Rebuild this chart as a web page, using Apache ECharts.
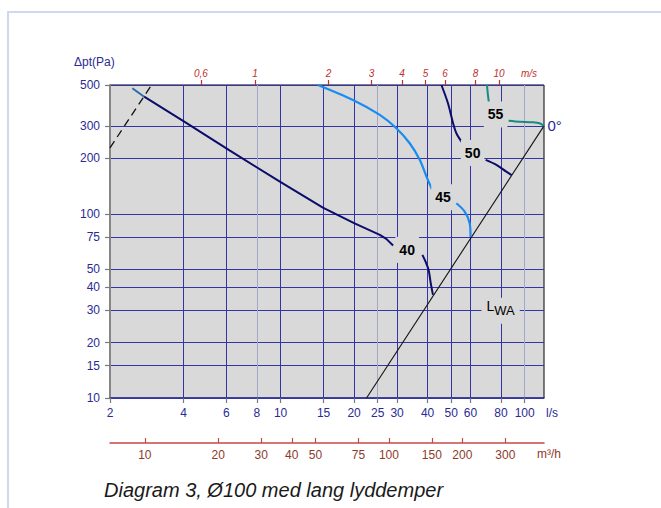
<!DOCTYPE html>
<html>
<head>
<meta charset="utf-8">
<script src="https://cdn.jsdelivr.net/npm/echarts@6/dist/echarts.min.js"></script>
<style>
html,body{margin:0;padding:0;background:#fff;}
#frame{position:absolute;left:7px;top:11px;width:720px;height:600px;border-left:2px solid #d0d7ef;border-top:2px solid #d0d7ef;box-sizing:border-box;}
#chart{position:absolute;left:0;top:0;width:661px;height:508px;}
</style>
</head>
<body>
<div id="frame"></div>
<div id="chart"></div>
<script>
// ---- tick values ----
const lpsTicks = [2, 4, 6, 8, 10, 15, 20, 25, 30, 40, 50, 60, 80, 100];
const lpsGridDark = [4, 6, 10, 15, 20, 30, 40, 50, 60, 80];
const lpsGridLight = [8, 25, 100];
const paTicks = [10, 15, 20, 30, 40, 50, 75, 100, 200, 300, 500];
const msTicks = [0.6, 1, 2, 3, 4, 5, 6, 8, 10];
const m3hTicks = [10, 20, 30, 40, 50, 75, 100, 150, 200, 300];

// ---- curves: [l/s, Pa] ----
const curve40start = [[2.47, 480], [2.76, 432]];
const curve40 = [[2.76, 432], [4.0, 318], [6.2, 220], [9.93, 149.5], [14.9, 108], [20, 88.9], [25.5, 76.8], [27.1, 73.1], [28.9, 67.2]];
const curve40b = [[38.1, 59.8], [39.3, 54.8], [40.4, 49.6], [41.2, 42.2], [42.1, 36.3]];
const curve45 = [[14.2, 500], [19.8, 414.6], [25.5, 343.9], [29.8, 291.2], [33.8, 241.4], [37.2, 196], [39.6, 159], [41.7, 135.9]];
const curve45b = [[52.5, 114.1], [56.8, 102.8], [59.5, 88.9], [60, 75]];
const curve50 = [[45.6, 500], [48.5, 398], [50.9, 310], [52.5, 273.6], [55.9, 239.3]];
const curve50b = [[69.2, 196], [76.6, 184.2], [84.1, 169.3], [88.4, 162]];
const curve55 = [[70.1, 500], [70.7, 441.5], [71.4, 398]];
const curve55b = [[85.9, 320], [95.4, 316], [108.1, 313.8], [115.1, 310], [120, 300]];
const lwaLine = [[22.5, 10], [120, 300]];
const dashedLine = [[2, 228], [2.96, 500]];

// ---- annotations: [l/s, Pa, text] ----
const curveLabels = [[33.0, 63.7, '40'], [46.3, 122.9, '45'], [61.2, 213.9, '50'], [76.0, 346, '55']];
const lwaLabel = [[79.7, 29.75]];
const angleLabel = [[120, 300, '0°']];

// ---- axis ranges / conversions ----
const QMIN = 2, QMAX = 120, PMIN = 10, PMAX = 500;
const msPerLps = 1 / (Math.PI * 0.05 * 0.05 * 1000); // Ø100 duct
const m3hPerLps = 3.6;

const FONT = 'Liberation Sans, Arial, sans-serif';
const NAVY = '#2a2a96';
const GRIDNAVY = '#3434a6';
const GRIDLIGHT = '#a0a6cc';
const RED = '#c0302c';
const BROWN = '#8e3a2a';
const CURVE_NAVY = '#0c0c6a';
const CURVE_BLUE = '#1a8cf0';
const CURVE_TEAL = '#168a84';
const CLEAR = 'rgba(0,0,0,0)';

const chart = echarts.init(document.getElementById('chart'), null, {renderer: 'svg'});

function hiddenGridAxis(values, color) {
  return {
    type: 'log', position: 'bottom', min: QMIN, max: QMAX,
    axisLine: {show: false}, axisLabel: {show: false},
    axisTick: {show: false, customValues: values},
    splitLine: {show: true, lineStyle: {color: color, width: 1}}
  };
}

function lineSeries(data, color, width, extra) {
  return Object.assign({
    type: 'line', xAxisIndex: 0, yAxisIndex: 0, data: data, symbol: 'none',
    lineStyle: {color: color, width: width}, silent: true, z: 3
  }, extra || {});
}

function labelSeries(data, label) {
  return {
    type: 'scatter', xAxisIndex: 0, yAxisIndex: 0, data: data, symbolSize: 1,
    itemStyle: {color: CLEAR}, silent: true, z: 5,
    label: Object.assign({show: true, opacity: 1, textBorderWidth: 0, textShadowBlur: 0}, label)
  };
}

const option = {
  animation: false,
  backgroundColor: 'transparent',
  textStyle: {fontFamily: FONT},
  title: [
    {text: 'Δpt(Pa)', left: 74, top: 56, padding: 0, textStyle: {fontSize: 12, fontWeight: 'normal', color: NAVY, fontFamily: FONT}},
    {text: 'l/s', left: 546, top: 407, padding: 0, textStyle: {fontSize: 12, fontWeight: 'normal', color: NAVY, fontFamily: FONT}},
    {text: 'm/s', left: 521, top: 68, padding: 0, textStyle: {fontSize: 10, fontStyle: 'italic', fontWeight: 'normal', color: RED, fontFamily: FONT}},
    {text: 'm³/h', left: 537, top: 448, padding: 0, textStyle: {fontSize: 12, fontWeight: 'normal', color: BROWN, fontFamily: FONT}},
    {text: 'Diagram 3, Ø100 med lang lyddemper', left: 104, top: 480, padding: 0, textStyle: {fontSize: 20, fontStyle: 'italic', fontWeight: 'normal', color: '#1a1a1a', fontFamily: FONT}}
  ],
  grid: {
    left: 110, top: 85, width: 434, height: 313,
    show: true, backgroundColor: '#d9d9d9', borderColor: '#000', borderWidth: 1
  },
  xAxis: [
    { // l/s main
      type: 'log', position: 'bottom', min: QMIN, max: QMAX,
      axisLine: {show: true, lineStyle: {color: GRIDNAVY, width: 1.5}},
      axisTick: {show: true, length: 5, customValues: lpsTicks, lineStyle: {color: '#7a7a7a', width: 1.2}},
      axisLabel: {show: true, customValues: lpsTicks, margin: 9, color: NAVY, fontSize: 12, fontFamily: FONT},
      splitLine: {show: false}
    },
    hiddenGridAxis(lpsGridDark, GRIDNAVY),
    hiddenGridAxis(lpsGridLight, GRIDLIGHT),
    { // m/s top
      type: 'log', position: 'top', min: QMIN * msPerLps, max: QMAX * msPerLps,
      axisLine: {show: false},
      axisTick: {show: true, length: 5, customValues: msTicks, lineStyle: {color: RED, width: 1.2}},
      axisLabel: {show: true, customValues: msTicks, margin: 7, color: RED, fontSize: 10, fontStyle: 'italic', fontFamily: FONT,
        formatter: v => String(v).replace('.', ',')},
      splitLine: {show: false}
    },
    { // m3/h bottom
      type: 'log', position: 'bottom', offset: 45, min: QMIN * m3hPerLps, max: QMAX * m3hPerLps,
      axisLine: {show: true, lineStyle: {color: '#c24a46', width: 1.5}},
      axisTick: {show: true, inside: true, length: 5, customValues: m3hTicks, lineStyle: {color: '#c24a46', width: 1.2}},
      axisLabel: {show: true, customValues: m3hTicks, margin: 6, color: BROWN, fontSize: 12, fontFamily: FONT},
      splitLine: {show: false}
    }
  ],
  yAxis: [
    {
      type: 'log', position: 'left', min: PMIN, max: PMAX,
      axisLine: {show: true, lineStyle: {color: '#868686', width: 2}},
      axisTick: {show: true, length: 5, customValues: paTicks, lineStyle: {color: '#7a7a7a', width: 1.2}},
      axisLabel: {show: true, customValues: paTicks, margin: 10, color: NAVY, fontSize: 12, fontFamily: FONT},
      splitLine: {show: true, lineStyle: {color: GRIDNAVY, width: 1}}
    }
  ],
  series: [
    lineSeries(dashedLine, '#111', 1.3, {lineStyle: {color: '#111', width: 1.3, type: [8, 5]}}),
    lineSeries(lwaLine, '#111', 1.1),
    lineSeries(curve40start, '#2a6aa8', 2),
    lineSeries(curve40, CURVE_NAVY, 2),
    lineSeries(curve40b, CURVE_NAVY, 2, {smooth: 0.3}),
    lineSeries(curve45, CURVE_BLUE, 2.2, {smooth: 0.3}),
    lineSeries(curve45b, CURVE_BLUE, 2.2, {smooth: 0.3}),
    lineSeries(curve50, CURVE_NAVY, 2, {smooth: 0.3}),
    lineSeries(curve50b, CURVE_NAVY, 2, {smooth: 0.3}),
    lineSeries(curve55, CURVE_TEAL, 2, {smooth: 0.3}),
    lineSeries(curve55b, CURVE_TEAL, 2, {smooth: 0.3}),
    labelSeries(curveLabels, {
      position: 'inside', formatter: p => p.value[2], color: '#000', fontSize: 14,
      fontWeight: 'bold', fontFamily: FONT, backgroundColor: '#d9d9d9', padding: [6, 4]
    }),
    labelSeries(lwaLabel, {
      position: 'inside', formatter: '{a|L}{b|WA}', backgroundColor: '#d9d9d9', padding: [1, 5],
      rich: {
        a: {fontSize: 14, lineHeight: 14, verticalAlign: 'top', color: '#000', fontFamily: FONT, textBorderWidth: 0},
        b: {fontSize: 13, lineHeight: 24, verticalAlign: 'middle', color: '#000', fontFamily: FONT, textBorderWidth: 0}
      }
    }),
    labelSeries(angleLabel, {
      position: 'right', distance: 3, formatter: p => p.value[2], color: NAVY, fontSize: 15, fontFamily: FONT
    })
  ]
};
chart.setOption(option);
</script>
</body>
</html>
